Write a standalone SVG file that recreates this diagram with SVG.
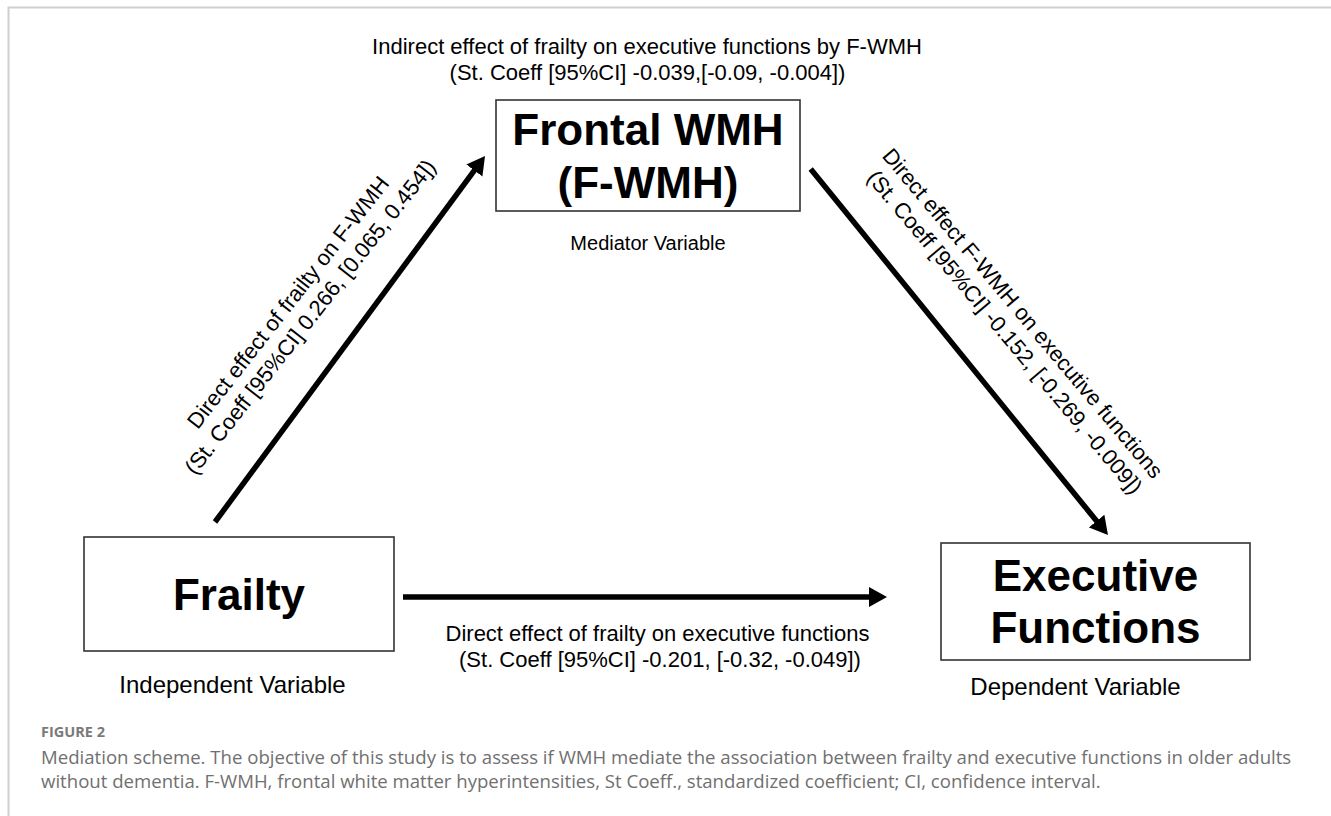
<svg xmlns="http://www.w3.org/2000/svg" width="1331" height="816" viewBox="0 0 1331 816">
<style>
.box{fill:#fff;stroke:#333;stroke-width:1.6}
.big{font-family:"Liberation Sans",Arial,sans-serif;font-weight:bold;font-size:44px;fill:#000;text-anchor:middle}
.lab{font-family:"Liberation Sans",Arial,sans-serif;font-size:22px;fill:#000;text-anchor:middle}
.med{font-family:"Liberation Sans",Arial,sans-serif;font-size:20px;fill:#000;text-anchor:middle}
.var{font-family:"Liberation Sans",Arial,sans-serif;font-size:24px;fill:#000;text-anchor:middle}
.conn{stroke:#000;stroke-width:5.5;fill:none;marker-end:url(#ah)}
.cap{font-family:"Open Sans","Noto Sans",sans-serif;font-size:18.6px;fill:#707070}
.fig{font-family:"Open Sans","Noto Sans",sans-serif;font-size:14.5px;font-weight:bold;fill:#7a7a7a}
</style>
<defs>
<marker id="ah" markerUnits="userSpaceOnUse" markerWidth="20" markerHeight="22" refX="6" refY="11" orient="auto" viewBox="0 0 20 22">
<path d="M0,1 L18,11 L0,21 z" fill="#000"/>
</marker>
</defs>
<rect width="1331" height="816" fill="#fff"/>
<path d="M8.5,816 V7.5 H1331" fill="none" stroke="#cfcfcf" stroke-width="2"/>

<g id="connectors">
<line class="conn" x1="215" y1="522" x2="477.9" y2="165.7"/>
<line class="conn" x1="810.7" y1="169" x2="1100.4" y2="525.7"/>
<line class="conn" x1="403" y1="597" x2="875" y2="597"/>
</g>

<g id="indirect-label">
<text class="lab" x="647" y="54">Indirect effect of frailty on executive functions by F-WMH</text>
<text class="lab" x="647.5" y="80">(St. Coeff [95%CI] -0.039,[-0.09, -0.004])</text>
</g>

<g id="fwmh">
<rect class="box" x="496" y="100" width="304" height="111"/>
<text class="big" x="648" y="145">Frontal WMH</text>
<text class="big" x="648" y="198">(F-WMH)</text>
<text class="med" x="648" y="250">Mediator Variable</text>
</g>

<g id="frailty">
<rect class="box" x="84" y="537" width="310" height="114"/>
<text class="big" x="239" y="610">Frailty</text>
<text class="var" x="232.5" y="693">Independent Variable</text>
</g>

<g id="exec">
<rect class="box" x="941" y="543" width="309" height="117"/>
<text class="big" x="1095.5" y="591">Executive</text>
<text class="big" x="1095.5" y="643">Functions</text>
<text class="var" x="1075.5" y="695">Dependent Variable</text>
</g>

<g id="label-a">
<text class="lab" transform="translate(294,307) rotate(-52)">Direct effect of frailty on F-WMH</text>
<text class="lab" transform="translate(316,321.5) rotate(-52)">(St. Coeff [95%CI] 0.266, [0.065, 0.454])</text>
</g>

<g id="label-b">
<text class="lab" transform="translate(1017,318) rotate(50)">Direct effect F-WMH on executive functions</text>
<text class="lab" transform="translate(999,337) rotate(50)">(St. Coeff [95%CI] -0.152, [-0.269, -0.009])</text>
</g>

<g id="label-c">
<text class="lab" x="657.5" y="641">Direct effect of frailty on executive functions</text>
<text class="lab" x="660" y="667">(St. Coeff [95%CI] -0.201, [-0.32, -0.049])</text>
</g>

<g id="caption">
<text class="fig" x="41" y="737">FIGURE 2</text>
<text class="cap" x="41" y="764">Mediation scheme. The objective of this study is to assess if WMH mediate the association between frailty and executive functions in older adults</text>
<text class="cap" x="41" y="788">without dementia. F-WMH, frontal white matter hyperintensities, St Coeff., standardized coefficient; CI, confidence interval.</text>
</g>
</svg>
